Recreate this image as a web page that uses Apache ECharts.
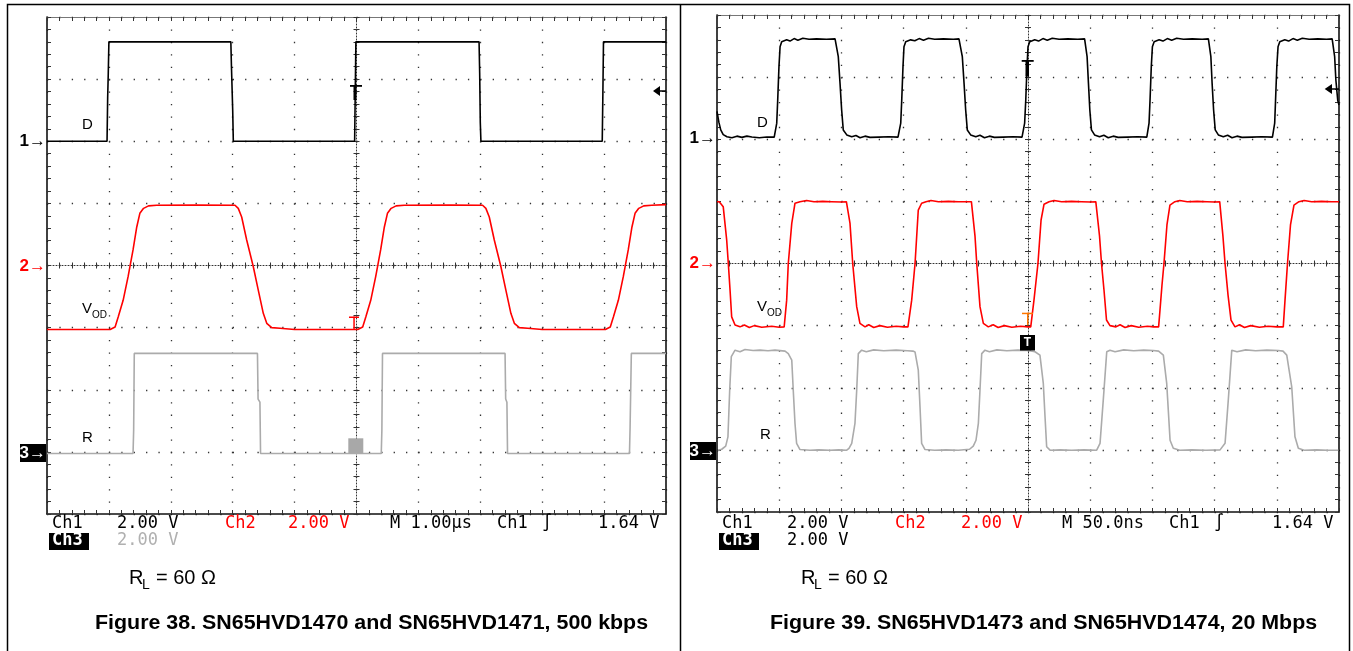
<!DOCTYPE html>
<html>
<head>
<meta charset="utf-8">
<script src="https://cdn.jsdelivr.net/npm/echarts@6/dist/echarts.min.js"></script>
<style>
html,body{margin:0;padding:0;background:#fff;}
#chart{width:1353px;height:651px;}
</style>
</head>
<body>
<div id="chart"></div>
<script>
// ---------------- DATA (volts vs time, read from the scope captures) ----------------
// Figure 38: 500 kbps, time in microseconds (1.00 us/div), 2.00 V/div
const fig38_time = [-5, 5, 1];
const fig38_D = [[-5,0],[-4.03,0],[-4.02,1.4],[-4.01,2.2],[-4.0,3.2],[-2.03,3.2],[-2.02,2.4],[-2.0,1.0],[-1.99,0],
  [-0.03,0],[-0.02,1.6],[-0.01,3.2],[1.98,3.2],[1.99,2.2],[2.0,0.6],[2.01,0],[3.97,0],[3.98,1.5],[3.99,3.2],[5,3.2]];
const fig38_VOD = [[-5,-2.06],[-3.98,-2.06],[-3.90,-1.98],[-3.85,-1.66],[-3.77,-1.12],[-3.69,-0.36],[-3.61,0.50],[-3.55,1.24],
  [-3.50,1.68],[-3.44,1.84],[-3.36,1.92],[-3.23,1.94],[-2.6,1.95],[-1.963,1.94],[-1.91,1.84],[-1.855,1.56],[-1.774,0.82],
  [-1.667,-0.04],[-1.586,-0.80],[-1.506,-1.54],[-1.45,-1.86],[-1.37,-2.0],[-1.236,-2.02],[-1.0,-2.06],[0.02,-2.06],
  [0.10,-1.98],[0.15,-1.66],[0.23,-1.12],[0.31,-0.36],[0.39,0.50],[0.45,1.24],[0.50,1.68],[0.56,1.84],[0.64,1.92],
  [0.77,1.94],[1.5,1.95],[2.037,1.94],[2.09,1.84],[2.145,1.56],[2.226,0.82],[2.333,-0.04],[2.414,-0.80],[2.494,-1.54],
  [2.55,-1.86],[2.63,-2.0],[2.764,-2.02],[3.0,-2.06],[4.02,-2.06],[4.10,-1.98],[4.15,-1.66],[4.23,-1.12],[4.31,-0.36],
  [4.39,0.50],[4.45,1.24],[4.50,1.68],[4.56,1.84],[4.64,1.92],[4.77,1.94],[5,1.96]];
const fig38_R = [[-5,-0.05],[-3.61,-0.05],[-3.60,0.7],[-3.59,3.17],[-1.60,3.17],[-1.59,1.7],[-1.56,1.6],[-1.55,-0.05],
  [0.40,-0.05],[0.41,0.7],[0.42,3.17],[2.40,3.17],[2.41,1.7],[2.43,1.6],[2.44,-0.05],[4.41,-0.05],[4.42,0.8],[4.44,3.17],[5,3.17]];

// Figure 39: 20 Mbps, time in nanoseconds (50.0 ns/div), 2.00 V/div
const fig39_time = [-250, 250, 50];
const fig39_D = [[-250,0.9],[-248.5,0.55],[-247,0.3],[-245,0.15],[-242,0.08],[-238,0.05],[-234,0.1],[-230,0.06],[-226,0.1],
  [-222,0.07],[-216,0.05],[-210,0.07],[-204,0.07],
  [-202.8,0.08],[-202.0,0.51],[-201.2,1.26],[-200.2,2.33],[-199.3,2.98],[-198.0,3.14],[-194.0,3.2],[-191.3,3.16],[-188,3.24],
  [-185,3.19],[-181,3.25],[-176,3.22],[-170,3.23],[-162,3.22],[-155.1,3.23],
  [-153.8,3.22],[-152.5,2.66],[-151.1,1.80],[-149.8,0.94],[-148.5,0.30],[-145.7,0.14],[-141.7,0.08],[-138.3,0.12],[-135,0.05],
  [-131,0.1],[-127,0.06],[-120,0.07],[-112,0.08],[-104.5,0.07],
  [-103.1,0.08],[-102.3,0.52],[-101.5,1.26],[-100.5,2.33],[-99.7,2.98],[-98.3,3.14],[-94.3,3.2],[-91,3.17],[-87.5,3.24],
  [-84,3.19],[-80,3.25],[-75,3.22],[-68,3.23],[-60,3.22],[-55.5,3.23],
  [-54.1,3.22],[-52.8,2.66],[-51.4,1.80],[-50.1,0.94],[-48.8,0.30],[-46.1,0.14],[-42.0,0.08],[-38.6,0.13],[-35,0.05],
  [-31,0.1],[-27,0.06],[-20,0.07],[-12,0.08],[-4.8,0.07],
  [-3.5,0.08],[-2.7,0.52],[-1.8,1.26],[-0.8,2.33],[0,2.98],[1.4,3.14],[5.4,3.2],[8.5,3.16],[12,3.24],[15.5,3.19],
  [19.5,3.25],[25,3.22],[32,3.23],[40,3.22],[45.5,3.23],
  [46.5,3.22],[47.5,2.66],[48.6,1.80],[49.7,0.94],[51,0.30],[53.5,0.14],[57.5,0.08],[61,0.13],[64.5,0.05],[68.5,0.1],
  [72.5,0.06],[80,0.07],[88,0.08],[95.5,0.07],
  [96.5,0.08],[97.3,0.52],[98.1,1.26],[99.1,2.33],[100,2.98],[101.4,3.14],[105.4,3.2],[108.5,3.16],[112,3.24],[115.5,3.19],
  [119.5,3.25],[125,3.22],[132,3.23],[140,3.22],[145,3.23],
  [146,3.22],[147,2.66],[148,1.80],[149.2,0.94],[150.5,0.30],[153,0.14],[157,0.08],[160.5,0.13],[164,0.05],[168,0.1],
  [172,0.06],[180,0.07],[188,0.08],[196.5,0.07],
  [197.5,0.08],[198.3,0.52],[199,1.26],[200,2.33],[201,2.98],[202.4,3.14],[206.4,3.2],[209.5,3.16],[213,3.24],[216.5,3.19],
  [220.5,3.25],[226,3.22],[233,3.23],[240,3.22],[244.5,3.23],
  [245.5,3.22],[246.5,2.66],[247.5,1.90],[249,1.25],[250,1.1]];
const fig39_VOD = [[-250,1.99],[-248.2,1.99],[-245,1.83],[-242.2,0.75],[-240.9,0],[-239.5,-0.86],[-238.2,-1.72],[-235.5,-1.98],
  [-231.5,-2.04],[-228,-1.98],[-224,-2.06],[-220,-2.0],[-214,-2.05],[-206,-2.02],[-200,-2.05],[-196,-2.04],
  [-195.3,-2.04],[-194.0,-1.18],[-192.7,0],[-189.9,1.29],[-187.3,1.94],[-183.3,1.99],[-178,2.03],[-172,1.99],[-165,2.0],
  [-158,1.99],[-150,1.98],[-146,1.99],
  [-145.7,1.99],[-143.1,1.30],[-140.9,0],[-137.7,-1.39],[-135.1,-1.93],[-131,-2.04],[-128,-1.97],[-124,-2.06],[-119,-2.0],
  [-113,-2.05],[-106,-2.02],[-100,-2.04],[-96.5,-2.04],
  [-96.2,-2.04],[-93.5,-1.18],[-90.8,0],[-88.2,1.72],[-85.5,1.94],[-82,1.99],[-78,2.03],[-72,1.99],[-64,2.0],[-56,1.99],
  [-48,1.99],[-45.5,1.99],
  [-45.3,1.99],[-42.6,0.88],[-41.2,0],[-38.6,-1.39],[-35.9,-1.93],[-31.9,-2.04],[-28,-1.97],[-24,-2.06],[-19,-2.0],
  [-13,-2.05],[-6,-2.02],[0,-2.04],[2.2,-2.04],
  [2.4,-2.04],[4.8,-1.18],[8.0,0],[10.5,1.40],[12.9,1.91],[16.9,1.99],[21,2.03],[27,1.99],[35,2.0],[43,1.99],[50,1.98],[54.5,1.99],
  [54.7,1.99],[57.5,0.88],[59.1,0],[61.1,-0.86],[63.1,-1.82],[65.9,-2.0],[70.7,-2.04],[74,-1.97],[78,-2.06],[83,-2.0],
  [89,-2.05],[96,-2.02],[101,-2.04],[105,-2.04],
  [105.3,-2.04],[106.1,-1.50],[107.7,-0.70],[109.3,0],[111.7,1.24],[114.1,1.88],[118.1,1.99],[122,2.03],[128,1.99],[136,2.0],
  [144,1.99],[150,1.98],[154.1,1.99],
  [154.3,1.99],[156.7,0.88],[158.4,0],[160.8,-1.02],[163.2,-1.82],[166.4,-2.04],[170,-1.97],[174,-2.06],[179,-2.0],[186,-2.05],
  [193,-2.02],[200,-2.04],[205.2,-2.04],
  [205.4,-2.04],[206.6,-1.18],[208.6,0],[211.0,1.24],[213.8,1.88],[217.8,1.99],[222,2.03],[228,1.99],[236,2.0],[244,1.99],[250,1.99]];
const fig39_R = [[-249.1,-0.01],[-246.2,0.02],[-243,0.12],[-241.2,0.42],[-239.8,1.92],[-238.5,3.0],[-235.5,3.21],[-231.5,3.16],
  [-227.5,3.23],[-221,3.2],[-215.4,3.21],[-209,3.19],[-203.4,3.21],[-195.3,3.18],
  [-192.7,3.10],[-189.9,2.89],[-188.7,1.92],[-187.3,0.85],[-186.0,0.21],[-183.3,0.01],[-175.3,-0.01],[-168,0.0],[-159.2,-0.01],
  [-152,0.0],[-145.7,-0.01],
  [-143.9,0.05],[-141.7,0.21],[-139.1,0.85],[-137.7,1.92],[-136.4,3.10],[-133.7,3.21],[-130,3.16],[-124,3.22],[-116,3.19],
  [-106,3.21],[-97,3.19],[-92.5,3.18],
  [-90.8,3.15],[-88.2,2.57],[-86.8,1.38],[-85.5,0.21],[-82.8,0.01],[-75,-0.01],[-66,0.0],[-56,-0.01],[-47,0.02],
  [-44.0,0.12],[-41.8,0.31],[-39.9,0.85],[-38.6,1.92],[-37.2,3.10],[-34.6,3.21],[-31,3.16],[-25,3.22],[-17,3.19],[-8,3.21],
  [0,3.2],[5.6,3.16],
  [9.6,3.05],[12.3,2.14],[13.7,1.06],[15.0,0.10],[17.7,-0.01],[26,0.0],[35,-0.01],[45,0.0],[55.2,-0.01],
  [57.9,0.21],[60.5,1.60],[63.3,3.16],[65.9,3.21],[70,3.16],[77,3.22],[85,3.19],[93,3.21],[100.7,3.2],
  [105,3.18],[108.8,3.05],[111.5,2.14],[114.2,0.31],[116.8,0.05],[122,-0.01],[132,0.0],[143,-0.01],[154.4,0.0],
  [158.4,0.21],[161.0,1.60],[163.8,3.21],[168,3.16],[175,3.22],[183,3.19],[192,3.21],[201.2,3.2],
  [205,3.18],[208.0,3.05],[212.0,2.03],[214.6,0.42],[217.3,0.05],[222,-0.01],[232,0.0],[241,-0.01],[249.5,-0.01]];

// Screen: 8 vertical divisions at 2.00 V/div -> -8..8 V; channel ground markers (V on screen)
const screenV = [-8, 8, 2];
const chOffsetV = { D: 4, VOD: 0, R: -6 };

// ---------------- CHART ----------------
const COL = { D: '#000000', VOD: '#ff0000', R: '#ababab' };
const grids = [], xAxes = [], yAxes = [], series = [];
function addGrid(r) { grids.push(Object.assign({ show: false }, r)); return grids.length - 1; }
function baseAxis(gi) {
  return { gridIndex: gi, type: 'value', axisLabel: { show: false }, splitLine: { show: false },
           axisTick: { show: false }, axisLine: { show: false, onZero: false }, minorTick: { show: false } };
}
function addX(gi, o) { xAxes.push(Object.assign(baseAxis(gi), o)); return xAxes.length - 1; }
function addY(gi, o) { yAxes.push(Object.assign(baseAxis(gi), o)); return yAxes.length - 1; }
function shift(arr, off) { return arr.map(p => [p[0], p[1] + off]); }
function al(show, color, width, type) {
  return { show, onZero: false, lineStyle: { color: color || '#111', width: width || 1, type: type || 'solid' } };
}

function panel(rect, tr, traces) {
  const { left, top, width, height } = rect;
  const xB = { min: tr[0], max: tr[1], interval: tr[2] };
  const yB = { min: screenV[0], max: screenV[1], interval: screenV[2] };
  const g0 = addGrid({ left, top, width, height });
  const tk = { show: true, inside: true, length: 4, lineStyle: { color: '#333', width: 1 } };
  const mt = { show: true, splitNumber: 5, length: 4, lineStyle: { color: '#333', width: 1 } };
  const dot = '#333';
  const xi = addX(g0, Object.assign({}, xB, { position: 'bottom',
    axisLine: al(true, '#111', 1.6), axisTick: tk, minorTick: mt,
    splitLine: { show: true, lineStyle: { color: dot, width: 1.3, type: [1.3, height / 40 - 1.3] } } }));
  addX(g0, Object.assign({}, xB, { position: 'top', axisLine: al(true, '#777', 1.2), axisTick: tk, minorTick: mt }));
  const yi = addY(g0, Object.assign({}, yB, { position: 'left',
    axisLine: al(true, '#111', 1.6), axisTick: tk, minorTick: mt,
    splitLine: { show: true, lineStyle: { color: dot, width: 1.3, type: [1.3, width / 50 - 1.3] } } }));
  addY(g0, Object.assign({}, yB, { position: 'right', axisLine: al(true, '#111', 1.6), axisTick: tk, minorTick: mt }));
  // centre cross (dense dotted, ticks on both sides)
  const ct = { show: true, inside: true, length: 3, lineStyle: { color: '#333', width: 1 } };
  const cm = { show: true, splitNumber: 5, length: 3, lineStyle: { color: '#333', width: 1 } };
  const cl = al(true, '#333', 1, [1, 2]);
  let g = addGrid({ left, top, width, height: height / 2 });
  addX(g, Object.assign({}, xB, { position: 'bottom', axisLine: cl, axisTick: ct, minorTick: cm }));
  addY(g, { min: 0, max: 1, show: false });
  g = addGrid({ left, top: top + height / 2, width, height: height / 2 });
  addX(g, Object.assign({}, xB, { position: 'top', axisTick: ct, minorTick: cm }));
  addY(g, { min: 0, max: 1, show: false });
  g = addGrid({ left, top, width: width / 2, height });
  addX(g, { min: 0, max: 1, show: false });
  addY(g, Object.assign({}, yB, { position: 'right', axisLine: cl, axisTick: ct, minorTick: cm }));
  g = addGrid({ left: left + width / 2, top, width: width / 2, height });
  addX(g, { min: 0, max: 1, show: false });
  addY(g, Object.assign({}, yB, { position: 'left', axisTick: ct, minorTick: cm }));
  ['R', 'VOD', 'D'].forEach(k => {
    series.push({ type: 'line', xAxisIndex: xi, yAxisIndex: yi, data: shift(traces[k], chOffsetV[k]),
      showSymbol: false, symbol: 'none', silent: true, z: 5,
      lineStyle: { color: COL[k], width: 1.6 } });
  });
}

panel({ left: 47, top: 17, width: 619, height: 497 }, fig38_time, { D: fig38_D, VOD: fig38_VOD, R: fig38_R });
panel({ left: 717, top: 15, width: 622, height: 497 }, fig39_time, { D: fig39_D, VOD: fig39_VOD, R: fig39_R });

// ---------------- TEXT / ANNOTATIONS ----------------
const ARIAL = '"Liberation Sans", Arial, sans-serif';
const MONO = '"DejaVu Sans Mono", monospace';
const G = [];
function txt(x, y, s, font, fill, align, sx) {
  G.push({ type: 'text', x, y, scaleX: sx || 1, silent: true, z: 20,
    style: { text: s, font, fill: fill || '#000', align: align || 'left', verticalAlign: 'middle' } });
}
function box(x, y, w, h, fill) { G.push({ type: 'rect', silent: true, z: 19, shape: { x, y, width: w, height: h }, style: { fill } }); }
function line(pts, stroke, w) { G.push({ type: 'polyline', silent: true, z: 21, shape: { points: pts }, style: { stroke, lineWidth: w || 1.5, fill: null } }); }

// frame
line([[7.5, 651], [7.5, 4.5], [1349.5, 4.5], [1349.5, 651]], '#000', 1.5);
line([[680.5, 4.5], [680.5, 651]], '#000', 1.5);

function panelText(o) {
  // channel markers
  txt(o.mx, o.y1, '1\u2192', 'bold 17px ' + ARIAL, '#000', 'right');
  txt(o.mx, o.y2, '2\u2192', 'bold 17px ' + ARIAL, '#ff0000', 'right');
  box(o.mx - 26, o.y3 - 9, 26, 18, '#000');
  txt(o.mx, o.y3, '3\u2192', 'bold 17px ' + ARIAL, '#fff', 'right');
  // trace labels
  txt(o.lx, o.ly[0], 'D', '15px ' + ARIAL);
  txt(o.lx, o.ly[1], 'V', '15px ' + ARIAL);
  txt(o.lx + 10, o.ly[1] + 6, 'OD', '10px ' + ARIAL);
  txt(o.lx + o.rdx, o.ly[2], 'R', '15px ' + ARIAL);
  // scope readout
  const r1 = 524, r2 = 541;
  txt(o.bx[0], r1, 'Ch1', '17px ' + MONO);
  txt(o.bx[1], r1, '2.00 V', '17px ' + MONO);
  txt(o.bx[2], r1, 'Ch2', '17px ' + MONO, '#ff0000');
  txt(o.bx[3], r1, '2.00 V', '17px ' + MONO, '#ff0000');
  txt(o.bx[4], r1, o.tb, '17px ' + MONO);
  txt(o.bx[5], r1, 'Ch1', '17px ' + MONO);
  txt(o.bx[6], r1, '\u222B', '17px ' + MONO);
  txt(o.bx[7], r1, '1.64 V', '17px ' + MONO);
  box(o.bx[0] - 3, r2 - 8, 40, 17, '#000');
  txt(o.bx[0], r2, 'Ch3', 'bold 17px ' + MONO, '#fff');
  txt(o.bx[1], r2, '2.00 V', '17px ' + MONO, o.ch3col);
  // RL
  txt(o.rlx, 578, 'R', '20px ' + ARIAL);
  txt(o.rlx + 13, 585, 'L', '14px ' + ARIAL);
  txt(o.rlx + 27, 578, '= 60 \u03A9', '20px ' + ARIAL);
  // caption
  txt(o.capx, 623, o.cap, 'bold 20px ' + ARIAL, '#000', 'left', 1.07);
}
panelText({ mx: 46, y1: 141, y2: 266, y3: 453, lx: 82, ly: [125, 309, 438], rdx: 0,
  bx: [52, 117, 225, 288, 390, 497, 542, 598], tb: 'M 1.00\u00B5s', ch3col: '#b0b0b0', rlx: 129,
  capx: 95, cap: 'Figure 38. SN65HVD1470 and SN65HVD1471, 500 kbps' });
panelText({ mx: 716, y1: 138, y2: 263, y3: 451, lx: 757, ly: [123, 307, 435], rdx: 3,
  bx: [722, 787, 895, 961, 1062, 1169, 1214, 1272], tb: 'M 50.0ns', ch3col: '#000', rlx: 801,
  capx: 770, cap: 'Figure 39. SN65HVD1473 and SN65HVD1474, 20 Mbps' });

// trigger markers
// left panel
box(350, 85, 12, 1.8, '#000'); box(353.5, 85, 3, 15, '#000');
box(349, 316.5, 10, 1.5, '#ff0000'); box(353.3, 316.5, 1.5, 13, '#ff0000');
box(348.3, 438.3, 15, 15, '#a8a8a8');
G.push({ type: 'polygon', silent: true, z: 21, shape: { points: [[653, 91], [660, 86], [660, 96]] }, style: { fill: '#000' } });
line([[659, 91], [666, 91]], '#000', 1.5);
// right panel
box(1021.7, 60, 12, 1.8, '#000'); box(1025.5, 60, 3.5, 16.5, '#000');
box(1022, 312.7, 11, 1.5, '#ff7700'); box(1027, 312.7, 1.5, 12.5, '#ff7700');
box(1020, 335, 15, 15.5, '#000');
txt(1027.5, 343, 'T', 'bold 12px ' + ARIAL, '#fff', 'center');
G.push({ type: 'polygon', silent: true, z: 21, shape: { points: [[1324.7, 89], [1332, 84], [1332, 94]] }, style: { fill: '#000' } });
line([[1331, 89], [1339, 89]], '#000', 1.5);

const chart = echarts.init(document.getElementById('chart'), null, { renderer: 'canvas' });
chart.setOption({
  animation: false,
  backgroundColor: '#ffffff',
  grid: grids, xAxis: xAxes, yAxis: yAxes, series: series,
  graphic: G
});
</script>
</body>
</html>
